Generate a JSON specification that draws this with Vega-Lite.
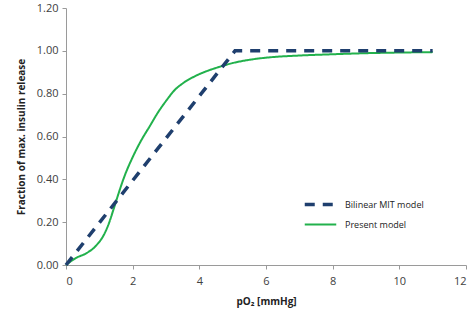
{
  "$schema": "https://vega.github.io/schema/vega-lite/v6.json",
  "width": 400,
  "height": 257,
  "autosize": {"type": "none"},
  "padding": {"left": 66, "top": 8, "right": 5, "bottom": 57},
  "background": "white",
  "config": {"view": {"stroke": null}, "font": "Open Sans"},
  "data": {"values": [
    {"series": "Bilinear MIT model", "x": 0, "y": 0},
    {"series": "Bilinear MIT model", "x": 5.07, "y": 1},
    {"series": "Bilinear MIT model", "x": 11, "y": 1},
    {"series": "Present model", "x": 0, "y": 0},
    {"series": "Present model", "x": 0.3, "y": 0.033},
    {"series": "Present model", "x": 0.6, "y": 0.054},
    {"series": "Present model", "x": 0.9, "y": 0.09},
    {"series": "Present model", "x": 1.15, "y": 0.145},
    {"series": "Present model", "x": 1.3, "y": 0.2},
    {"series": "Present model", "x": 1.42, "y": 0.257},
    {"series": "Present model", "x": 1.6, "y": 0.345},
    {"series": "Present model", "x": 1.72, "y": 0.4},
    {"series": "Present model", "x": 2.02, "y": 0.51},
    {"series": "Present model", "x": 2.25, "y": 0.58},
    {"series": "Present model", "x": 2.52, "y": 0.65},
    {"series": "Present model", "x": 2.75, "y": 0.71},
    {"series": "Present model", "x": 3.02, "y": 0.77},
    {"series": "Present model", "x": 3.25, "y": 0.815},
    {"series": "Present model", "x": 3.52, "y": 0.85},
    {"series": "Present model", "x": 3.85, "y": 0.88},
    {"series": "Present model", "x": 4.22, "y": 0.905},
    {"series": "Present model", "x": 4.6, "y": 0.925},
    {"series": "Present model", "x": 5.0, "y": 0.943},
    {"series": "Present model", "x": 5.5, "y": 0.958},
    {"series": "Present model", "x": 6.0, "y": 0.968},
    {"series": "Present model", "x": 7.0, "y": 0.978},
    {"series": "Present model", "x": 8.0, "y": 0.984},
    {"series": "Present model", "x": 9.0, "y": 0.989},
    {"series": "Present model", "x": 10.0, "y": 0.992},
    {"series": "Present model", "x": 11.0, "y": 0.994}
  ]},
  "encoding": {
    "x": {
      "field": "x", "type": "quantitative",
      "scale": {"domain": [0, 12], "nice": false},
      "axis": {
        "values": [0, 2, 4, 6, 8, 10, 12], "grid": false,
        "domainColor": "#9a9a9a", "tickColor": "#9a9a9a", "tickSize": 4,
        "labelFontSize": 11, "labelColor": "#404040", "labelPadding": 6,
        "title": "pO₂ [mmHg]", "titleFontSize": 10, "titleFontWeight": "bold",
        "titleColor": "#222222", "titlePadding": 10
      }
    },
    "y": {
      "field": "y", "type": "quantitative",
      "scale": {"domain": [0, 1.2], "nice": false},
      "axis": {
        "values": [0, 0.2, 0.4, 0.6, 0.8, 1.0, 1.2], "format": ".2f", "grid": false,
        "domainColor": "#9a9a9a", "tickColor": "#9a9a9a", "tickSize": 4,
        "labelFontSize": 11, "labelColor": "#404040", "labelPadding": 4,
        "title": "Fraction of max. insulin release", "titleFontSize": 10,
        "titleFontWeight": "bold", "titleColor": "#222222", "titlePadding": 10
      }
    },
    "color": {
      "field": "series", "type": "nominal",
      "scale": {"domain": ["Bilinear MIT model", "Present model"], "range": ["#1F3F6E", "#22B14C"]},
      "legend": {
        "orient": "none", "legendX": 242, "legendY": 184, "title": null,
        "symbolType": "M-1.5,0H1.5", "symbolSize": 441, "symbolStrokeWidth": 3,
        "labelFontSize": 9, "labelColor": "#222222", "rowPadding": 1, "labelOffset": 12
      }
    },
    "strokeDash": {
      "field": "series", "type": "nominal",
      "scale": {"domain": ["Bilinear MIT model", "Present model"], "range": [[10, 8], [1, 0]]},
      "legend": null
    },
    "strokeWidth": {
      "field": "series", "type": "nominal",
      "scale": {"domain": ["Bilinear MIT model", "Present model"], "range": [3.5, 2]},
      "legend": null
    }
  },
  "layer": [
    {
      "transform": [{"filter": "datum.series === 'Present model'"}],
      "mark": {"type": "line", "interpolate": "monotone"}
    },
    {
      "transform": [{"filter": "datum.series === 'Bilinear MIT model'"}],
      "mark": {"type": "line", "interpolate": "linear"}
    }
  ]
}
